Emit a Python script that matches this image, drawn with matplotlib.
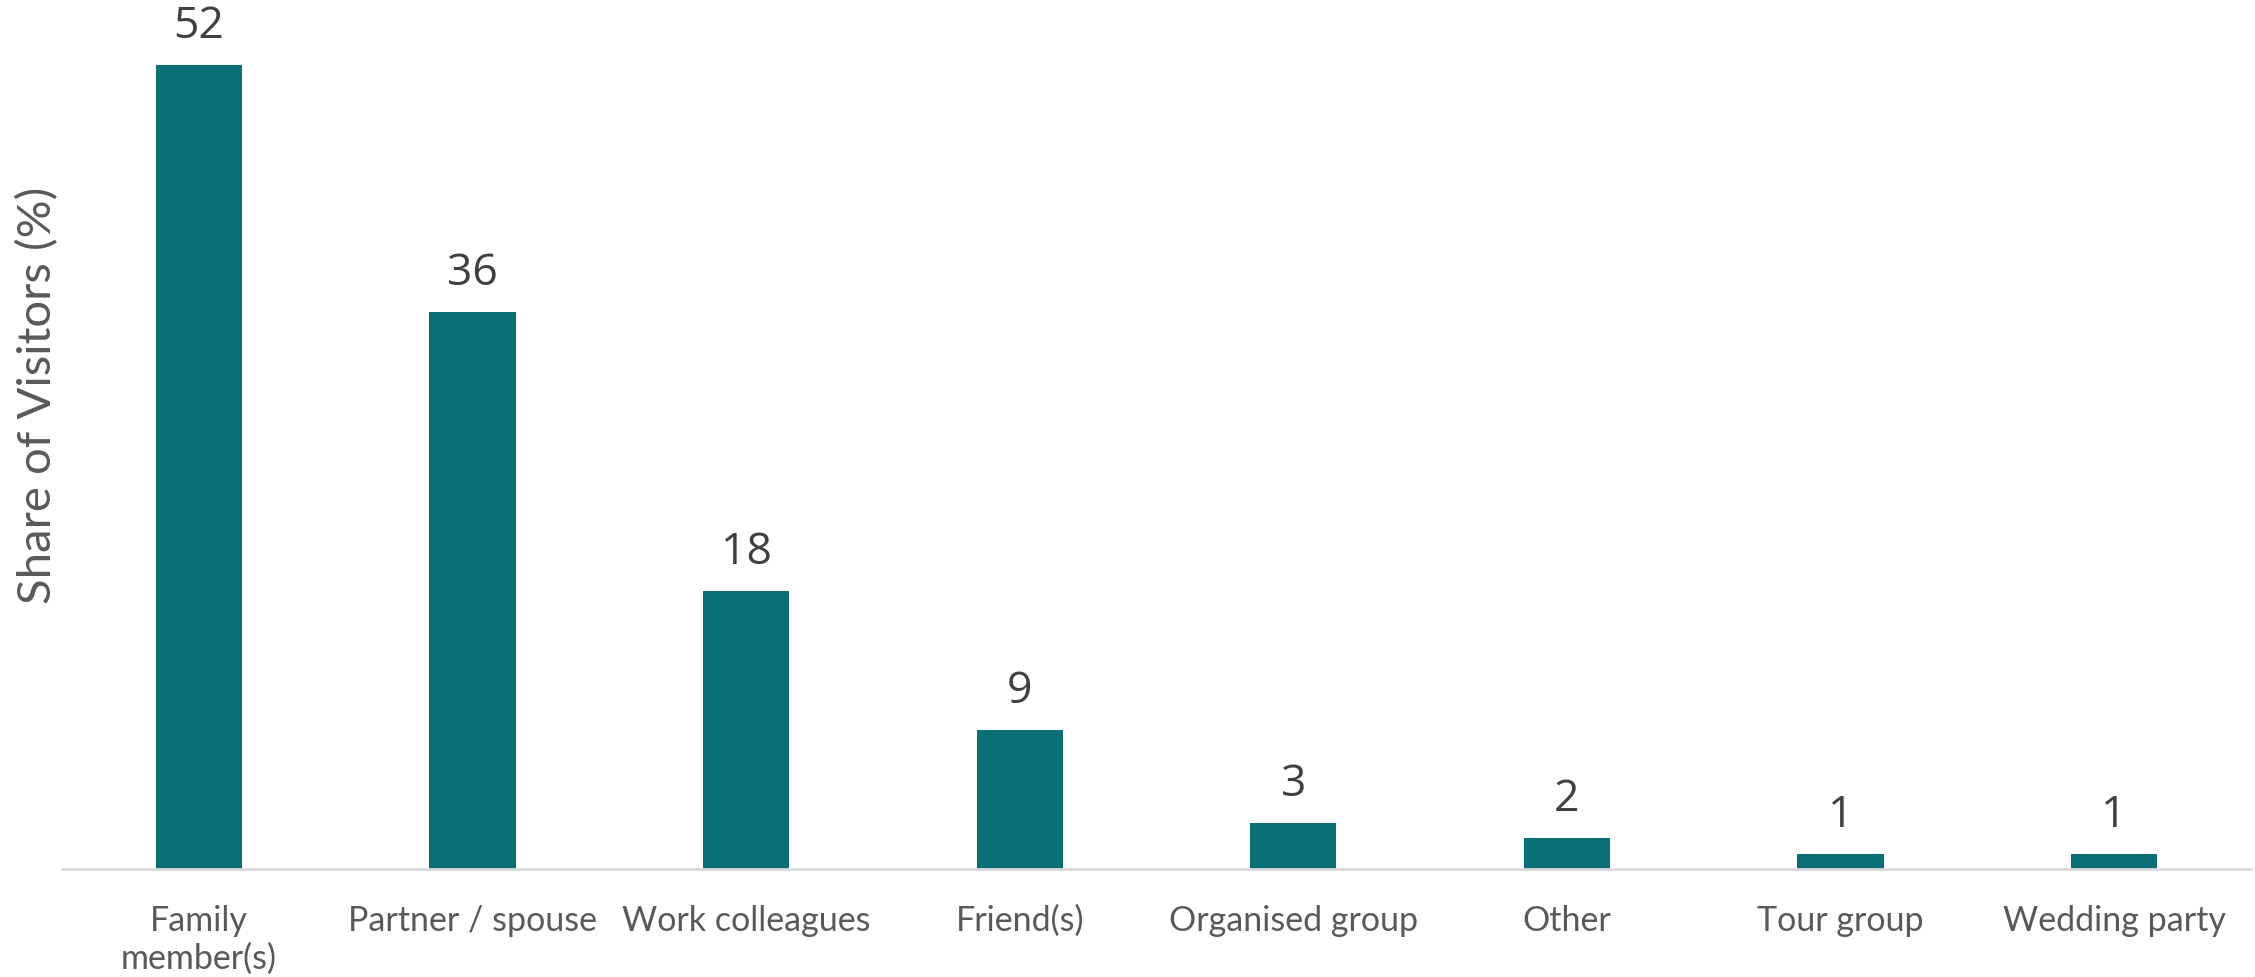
import matplotlib
matplotlib.use("Agg")
import matplotlib.pyplot as plt

categories = ["Family\nmember(s)", "Partner / spouse", "Work colleagues", "Friend(s)",
              "Organised group", "Other", "Tour group", "Wedding party"]
shares = [52, 36, 18, 9, 3, 2, 1, 1]

bar_color = "#0A7078"
tick_color = "#595959"
value_color = "#404040"

plt.rcParams["font.family"] = ["Lato", "DejaVu Sans"]

fig = plt.figure(figsize=(22.55, 9.77), dpi=100)
ax = fig.add_axes([62 / 2255, 108 / 977, (2251 - 62) / 2255, 869 / 977])

x = list(range(len(categories)))
bars = ax.bar(x, shares, width=0.315, color=bar_color, zorder=2)

for xi, v in zip(x, shares):
    ax.annotate(f"{v}", (xi, v), xytext=(0, 16), textcoords="offset pixels",
                ha="center", va="bottom", fontsize=32, color=value_color,
                family=["Open Sans", "DejaVu Sans"])

ax.set_xlim(-0.5, len(categories) - 0.5)
ax.set_ylim(0, 56.2)
ax.set_xticks(x)
ax.set_xticklabels(categories, fontsize=24.5, color=tick_color, linespacing=1.2)
ax.tick_params(axis="x", length=0, pad=26)
ax.set_yticks([])

for side in ("top", "right", "left"):
    ax.spines[side].set_visible(False)
ax.spines["bottom"].set_color("#D9D9D9")
ax.spines["bottom"].set_linewidth(2)

fig.text(38 / 2255, 1 - 395 / 977, "Share of Visitors (%)", rotation=90,
         ha="center", va="center", fontsize=34, color=tick_color)

fig.savefig("out.png", dpi=100, facecolor="white")
